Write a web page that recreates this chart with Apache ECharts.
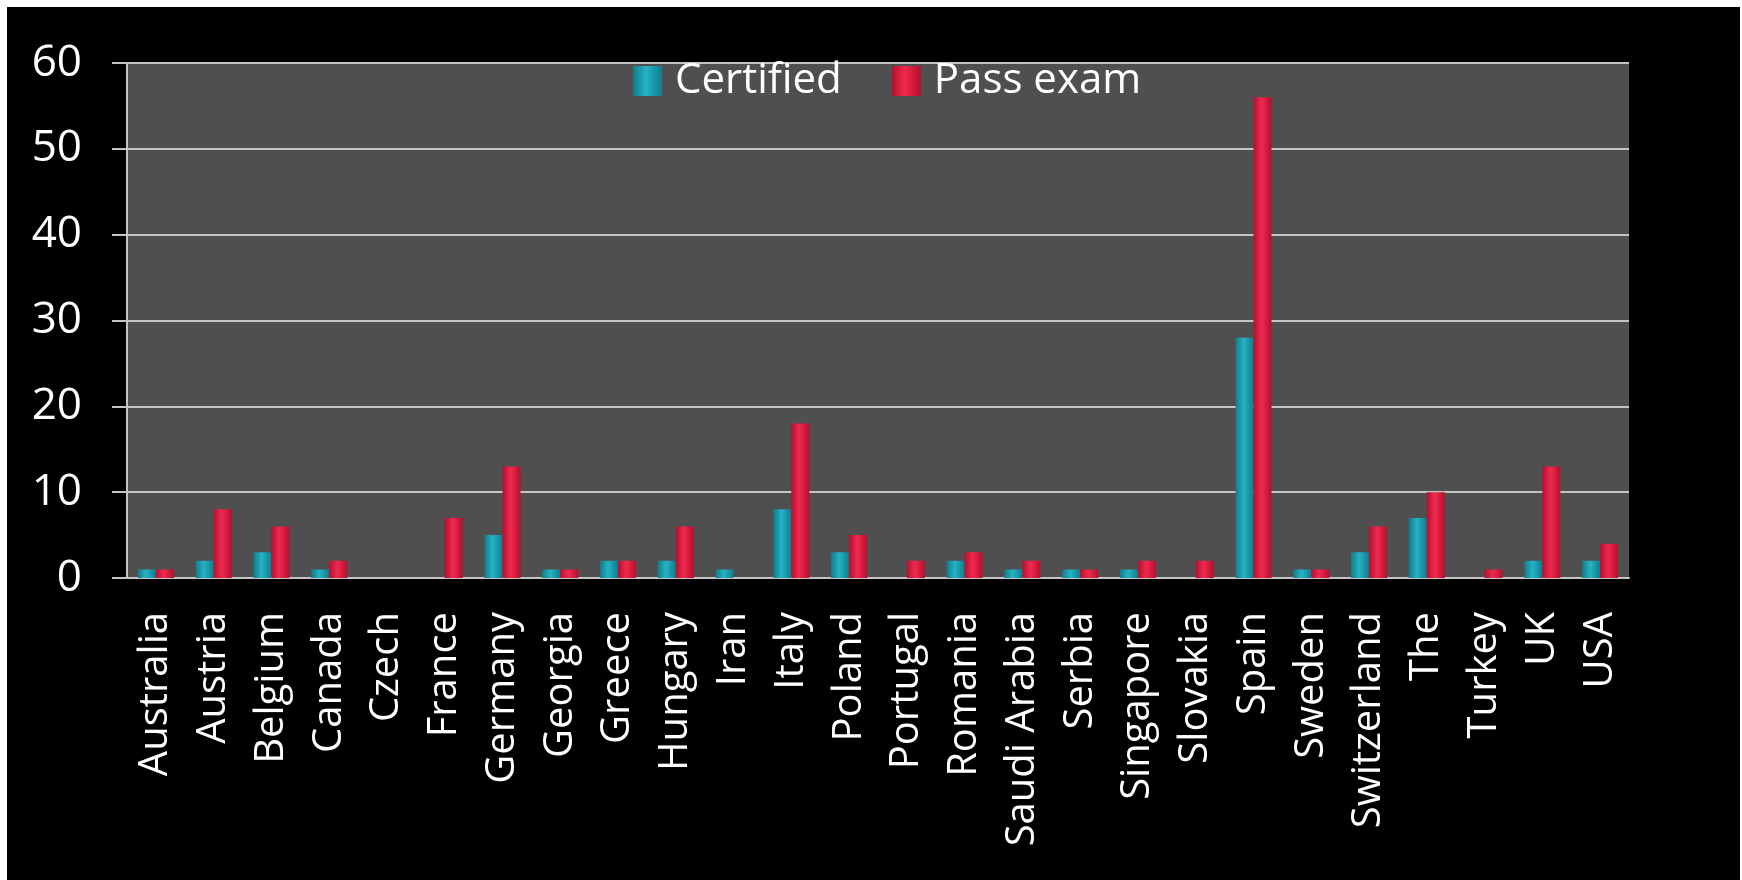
<!DOCTYPE html>
<html>
<head>
<meta charset="utf-8">
<script src="https://cdn.jsdelivr.net/npm/echarts@6/dist/echarts.min.js"></script>
<style>
  html, body { margin: 0; padding: 0; background: #ffffff; }
  #chart { position: absolute; left: 7px; top: 7px; width: 1733px; height: 873px; }
</style>
</head>
<body>
<div id="chart"></div>
<script>
var countries = ['Australia', 'Austria', 'Belgium', 'Canada', 'Czech', 'France', 'Germany',
    'Georgia', 'Greece', 'Hungary', 'Iran', 'Italy', 'Poland', 'Portugal', 'Romania',
    'Saudi Arabia', 'Serbia', 'Singapore', 'Slovakia', 'Spain', 'Sweden', 'Switzerland',
    'The', 'Turkey', 'UK', 'USA'];
var certified = [1, 2, 3, 1, 0, 0, 5, 1, 2, 2, 1, 8, 3, 0, 2, 1, 1, 1, 0, 28, 1, 3, 7, 0, 2, 2];
var passExam = [1, 8, 6, 2, 0, 7, 13, 1, 2, 6, 0, 18, 5, 2, 3, 2, 1, 2, 2, 56, 1, 6, 10, 1, 13, 4];

var chartDom = document.getElementById('chart');
var myChart = echarts.init(chartDom);

// cylinder-ish shading across each bar
function barColor(dark, light) {
    return new echarts.graphic.LinearGradient(0, 0, 1, 0, [
        { offset: 0, color: dark },
        { offset: 0.45, color: light },
        { offset: 1, color: dark }
    ]);
}

var option = {
    backgroundColor: '#000000',
    textStyle: { fontFamily: 'Open Sans' },
    legend: {
        left: 621,
        top: 48,
        itemWidth: 29,
        itemHeight: 30,
        itemGap: 50,
        icon: 'rect',
        textStyle: { color: '#ffffff', fontSize: 42, padding: [0, 0, 0, 8] }
    },
    grid: {
        left: 120,
        right: 111,
        top: 56,
        bottom: 302,
        show: true,
        backgroundColor: '#4f4f4f',
        borderWidth: 0
    },
    xAxis: {
        type: 'category',
        data: countries,
        axisLine: { lineStyle: { color: '#c4c4c4', width: 2 } },
        axisTick: { length: 14, lineStyle: { color: '#c4c4c4', width: 2 } },
        axisLabel: {
            color: '#ffffff',
            fontSize: 40,
            rotate: 90,
            margin: 34,
            interval: 0
        }
    },
    yAxis: {
        type: 'value',
        min: 0,
        max: 60,
        interval: 10,
        axisLine: { show: true, lineStyle: { color: '#c4c4c4', width: 2 } },
        axisTick: { show: true, length: 15, lineStyle: { color: '#c4c4c4', width: 2 } },
        splitLine: { lineStyle: { color: '#c4c4c4', width: 2 } },
        axisLabel: { color: '#ffffff', fontSize: 44, margin: 45 }
    },
    series: [{
        name: 'Certified',
        type: 'bar',
        data: certified,
        barWidth: 18,
        barGap: '0%',
        itemStyle: { color: barColor('#107c8c', '#25b3c4') }
    },
    {
        name: 'Pass exam',
        type: 'bar',
        data: passExam,
        barWidth: 18,
        itemStyle: { color: barColor('#b50f2f', '#f02a4e') }
    }]
};

option && myChart.setOption(option);
</script>
</body>
</html>
